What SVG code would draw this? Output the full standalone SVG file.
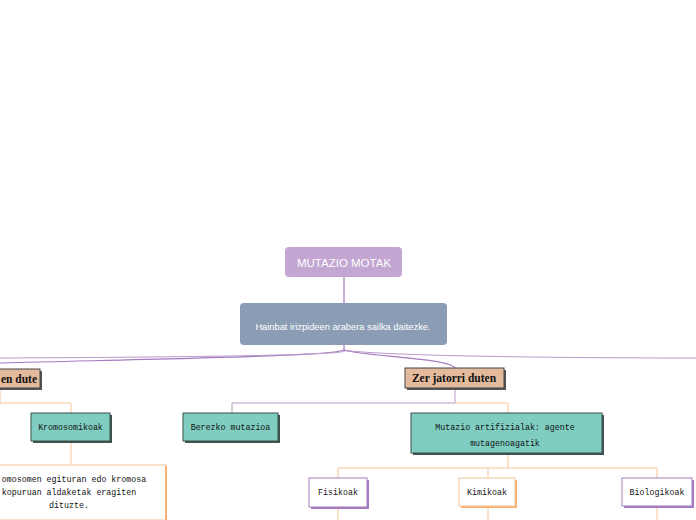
<svg xmlns="http://www.w3.org/2000/svg" width="696" height="520" viewBox="0 0 696 520">
<defs>
<style>
.mono{font-family:"Liberation Mono","DejaVu Sans Mono",monospace;font-size:8.3px;fill:#111;text-anchor:middle}
.teal{fill:#7fcdc0;stroke:#3f4f4c;stroke-width:1}
.tan{fill:#e3bb9c;stroke:#444;stroke-width:1}
.serifb{font-family:"Liberation Serif",serif;font-weight:bold;font-size:11.5px;fill:#111;text-anchor:middle}
.pl{fill:none;stroke:#a57cc0;stroke-width:1.2}
.ol{fill:none;stroke:#f5c49a;stroke-width:1}
.pt{fill:none;stroke:#b79ac9;stroke-width:1}
</style>
</defs>
<rect width="696" height="520" fill="#fff"/>
<g id="connectors">
<line x1="344" y1="277" x2="344" y2="303" class="pl" stroke-width="1.5"/>
<line x1="344" y1="345" x2="344" y2="350" class="pl"/>
<path d="M344,350 C330,356 200,358 0,363" class="pl"/>
<path d="M344,350 C360,354 250,357 0,358" class="pt"/>
<path d="M344,350 C360,356 450,358 455,368" class="pl"/>
<path d="M344,350 C380,356 560,358 696,358" class="pt"/>
<path d="M455,388 V403 H232 V413" class="pt"/>
<path d="M455,403 H508 V413" class="ol"/>
<path d="M508,453 V468 H338 V478" class="ol" stroke="#f0a060"/>
<path d="M508,468 H657 V478" class="ol"/>
<line x1="488" y1="468" x2="488" y2="478" class="ol"/>
<line x1="338" y1="507" x2="338" y2="520" class="ol"/>
<line x1="488" y1="507" x2="488" y2="520" class="ol"/>
<line x1="657" y1="507" x2="657" y2="520" class="ol"/>
<path d="M0,388 V403 H71 V413" class="ol"/>
<line x1="71" y1="441" x2="71" y2="465" class="ol"/>
</g>
<g id="root">
<rect x="285" y="247" width="117" height="30" rx="4" fill="#c3a6d1"/>
<text x="344" y="266.5" font-family="Liberation Sans,Arial,sans-serif" font-size="11.5" fill="#fff" text-anchor="middle">MUTAZIO MOTAK</text>
</g>
<g id="hainbat">
<rect x="240" y="303" width="207" height="42" rx="4" fill="#8a9db5"/>
<text x="343" y="330" font-family="Liberation Sans,Arial,sans-serif" font-size="9.3" fill="#fff" text-anchor="middle">Hainbat irizpideen arabera sailka daitezke.</text>
</g>
<g id="en-dute">
<rect x="-40" y="371" width="82" height="19" fill="#555"/>
<rect x="-42" y="369" width="82" height="19" class="tan"/>
<text x="37" y="382.5" class="serifb" style="text-anchor:end">en dute</text>
</g>
<g id="zer-jatorri">
<rect x="407" y="370" width="99" height="20" fill="#555"/>
<rect x="405" y="368" width="99" height="20" class="tan"/>
<text x="454" y="382" class="serifb">Zer jatorri duten</text>
</g>
<g id="kromosomikoak">
<rect x="33" y="415" width="79" height="28" fill="#3f5350"/>
<rect x="31" y="413" width="79" height="28" class="teal"/>
<text x="70.5" y="430" class="mono">Kromosomikoak</text>
</g>
<g id="kromosomen">
<rect x="-50" y="465" width="216" height="55" fill="#fff" stroke="#f5c49a" stroke-width="1"/>
<line x1="166" y1="466" x2="166" y2="520" stroke="#f5b070" stroke-width="2"/>
<text x="74" y="482" class="mono">omosomen egituran edo kromosa</text>
<text x="69" y="495" class="mono">kopuruan aldaketak eragiten</text>
<text x="69" y="508" class="mono">dituzte.</text>
</g>
<g id="berezko">
<rect x="185" y="415" width="95" height="28" fill="#3f5350"/>
<rect x="183" y="413" width="95" height="28" class="teal"/>
<text x="230.5" y="430" class="mono">Berezko mutazioa</text>
</g>
<g id="artifizialak">
<rect x="413" y="415" width="191" height="40" fill="#3f5350"/>
<rect x="411" y="413" width="191" height="40" class="teal"/>
<text x="505" y="430" class="mono">Mutazio artifizialak: agente</text>
<text x="505" y="446" class="mono">mutagenoagatik</text>
</g>
<g id="fisikoak">
<rect x="311" y="480" width="58" height="29" fill="#a57cc0"/>
<rect x="309" y="478" width="58" height="29" fill="#fff" stroke="#a57cc0" stroke-width="1"/>
<text x="338" y="495" class="mono">Fisikoak</text>
</g>
<g id="kimikoak">
<rect x="461" y="480" width="56" height="28" fill="#f5b070"/>
<rect x="459" y="478" width="56" height="28" fill="#fff" stroke="#f5c49a" stroke-width="1"/>
<text x="487" y="495" class="mono">Kimikoak</text>
</g>
<g id="biologikoak">
<rect x="624" y="480" width="70" height="28" fill="#a57cc0"/>
<rect x="622" y="478" width="70" height="28" fill="#fff" stroke="#a57cc0" stroke-width="1"/>
<text x="657" y="495" class="mono">Biologikoak</text>
</g>
</svg>
